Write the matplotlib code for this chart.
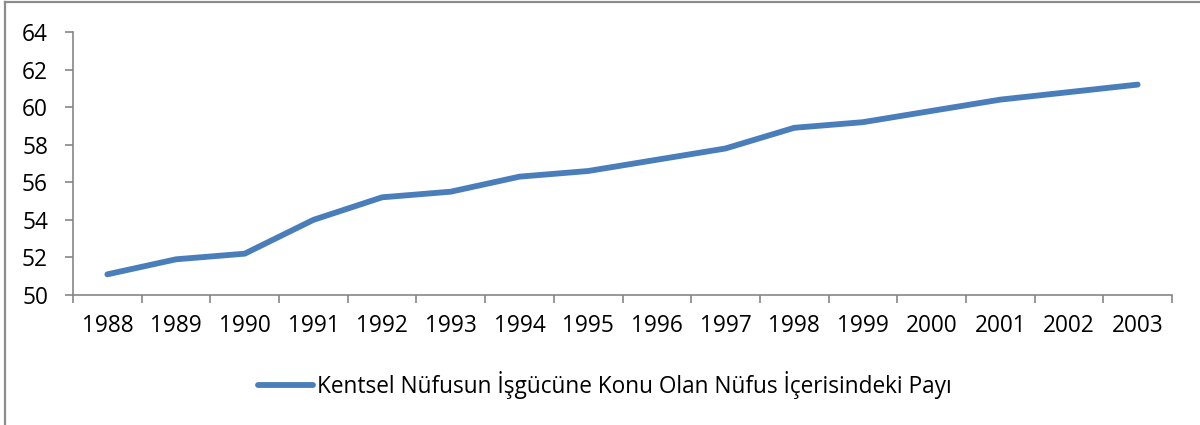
import matplotlib
matplotlib.use("Agg")
import matplotlib.pyplot as plt
from matplotlib.lines import Line2D

years = ["1988", "1989", "1990", "1991", "1992", "1993", "1994", "1995",
         "1996", "1997", "1998", "1999", "2000", "2001", "2002", "2003"]
values = [51.1, 51.9, 52.2, 54.0, 55.2, 55.5, 56.3, 56.6,
          57.2, 57.8, 58.9, 59.2, 59.8, 60.4, 60.8, 61.2]
series_name = "Kentsel Nüfusun İşgücüne Konu Olan Nüfus İçerisindeki Payı"
yticks = [50, 52, 54, 56, 58, 60, 62, 64]

plt.rcParams['font.family'] = ['Open Sans', 'DejaVu Sans']
FS = 16.3
W, H = 1200, 425
fig = plt.figure(figsize=(W / 100, H / 100), dpi=100)
ax = fig.add_axes([73 / W, 1 - 295 / H, (1172 - 73) / W, (295 - 32) / H])

x = list(range(len(years)))
line, = ax.plot(x, values, color="#4A7EBB", lw=4.2, solid_capstyle="round",
                solid_joinstyle="round")
ax.set_xlim(-0.5, len(years) - 0.5)
ax.set_ylim(50, 64)
ax.set_yticks(yticks)
ax.set_yticklabels([str(v) for v in yticks], fontsize=FS)
ax.set_xticks(x)
ax.set_xticklabels(years, fontsize=FS)
ax.set_xticks([i - 0.5 for i in range(len(years) + 1)], minor=True)
ax.tick_params(axis='x', which='major', length=0, pad=14)
ax.tick_params(axis='x', which='minor', length=6, color="#868686", width=1.2)
ax.tick_params(axis='y', length=6, color="#868686", width=1.2, pad=12)
for s in ["top", "right"]:
    ax.spines[s].set_visible(False)
for s in ["left", "bottom"]:
    ax.spines[s].set_color("#868686")
    ax.spines[s].set_linewidth(1.2)

fig.legend([line], [series_name], loc="center", bbox_to_anchor=(605 / W, 1 - 385 / H),
           frameon=False, fontsize=FS, handlelength=2.4, handletextpad=0.2)

border_kw = dict(transform=fig.transFigure, color="#8C8C8C", lw=1.6)
fig.lines.append(Line2D([5 / W, 5 / W], [0, 1 - 2 / H], **border_kw))
fig.lines.append(Line2D([5 / W, 1], [1 - 2 / H, 1 - 2 / H], **border_kw))

fig.savefig("out.png", dpi=100)
